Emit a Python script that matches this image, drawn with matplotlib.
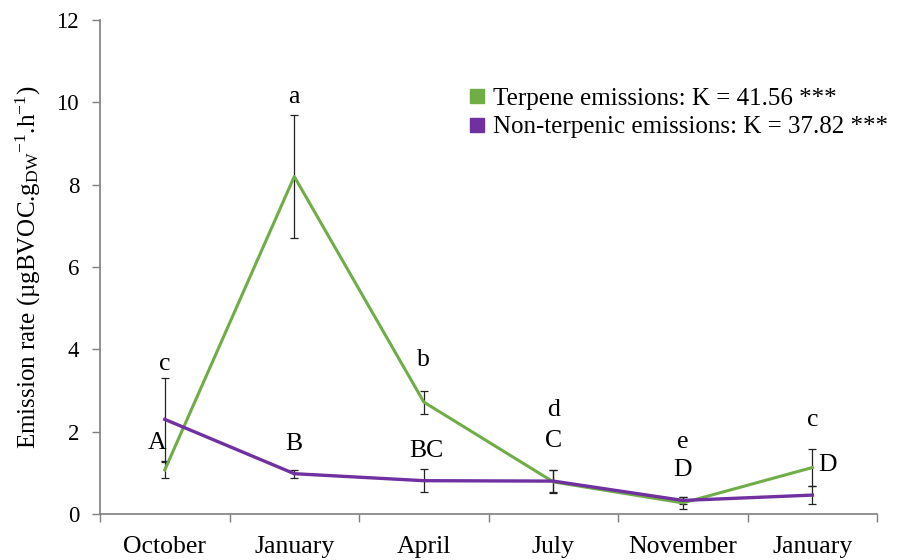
import matplotlib
matplotlib.use("Agg")
import matplotlib.pyplot as plt
from matplotlib.lines import Line2D

plt.rcParams['font.family'] = ['Liberation Serif', 'DejaVu Serif']
plt.rcParams['mathtext.fontset'] = 'custom'
plt.rcParams['mathtext.rm'] = 'Liberation Serif'
plt.rcParams['mathtext.it'] = 'Liberation Serif:italic'

# donnees
months = ["October", "January", "April", "July", "November", "January"]
terpene = [1.07, 8.2, 2.72, 0.78, 0.27, 1.13]
terpene_err = [0.2, 1.5, 0.28, 0.28, 0.14, 0.45]
nonterp = [2.3, 0.98, 0.81, 0.80, 0.33, 0.46]
nonterp_err = [1.0, 0.1, 0.28, 0.27, 0.08, 0.22]

# lettres de significativite (minuscules: terpenes, majuscules: non-terpeniques)
low_letters = ["c", "a", "b", "d", "e", "c"]
low_y = [3.64, 10.13, 3.74, 2.53, 1.75, 2.28]
up_letters = ["A", "B", "BC", "C", "D", "D"]
up_y = [1.72, 1.70, 1.53, 1.77, 1.07, 1.19]
up_dx = [-0.06, 0.0, 0.02, 0.0, 0.0, 0.12]

green = "#70AD47"
purple = "#7030A0"
grey = "#7f7f7f"

fig = plt.figure(figsize=(9.09, 5.6), dpi=100)
ax = fig.add_axes([0.110, 0.0821, 0.855, 0.882])

x = [i + 0.5 for i in range(len(months))]

ax.errorbar(x, terpene, yerr=terpene_err, fmt='none', ecolor='#222222',
            elinewidth=0.9, capsize=3, capthick=0.9, zorder=2)
ax.errorbar(x, nonterp, yerr=nonterp_err, fmt='none', ecolor='#222222',
            elinewidth=0.9, capsize=3, capthick=0.9, zorder=2)
ax.plot(x, terpene, color=green, lw=2.2, zorder=3)
ax.plot(x, nonterp, color=purple, lw=2.4, zorder=3)

for i in range(len(months)):
    ax.text(x[i], low_y[i], low_letters[i], ha='center', va='center', fontsize=18.5)
    ax.text(x[i] + up_dx[i], up_y[i], up_letters[i], ha='center', va='center', fontsize=18.5)

ax.set_xlim(0, 6)
ax.set_ylim(0, 12)
ax.set_yticks(range(0, 13, 2))
ax.set_xticks(range(0, 7))
ax.set_xticklabels([])
ax.set_xticks(x, minor=True)
ax.set_xticklabels(months, minor=True, fontsize=18.5)
ax.tick_params(axis='x', which='minor', length=0, pad=16)
ax.tick_params(axis='x', which='major', length=6, width=1, color=grey, direction='out')
ax.tick_params(axis='y', length=6, width=1, color=grey, direction='out', labelsize=16.5, pad=9)

for s in ['top', 'right']:
    ax.spines[s].set_visible(False)
for s in ['left', 'bottom']:
    ax.spines[s].set_color(grey)
    ax.spines[s].set_linewidth(1.2)

ax.set_ylabel(r"Emission rate (µgBVOC.g$_{\mathrm{DW}}$$^{\mathrm{-1}}$.h$^{\mathrm{-1}}$)",
              fontsize=18, labelpad=10)

handles = [Line2D([], [], ls='none', marker='s', color=green, markersize=9.5),
           Line2D([], [], ls='none', marker='s', color=purple, markersize=9.5)]
labels = ["Terpene emissions: K = 41.56 ***", "Non-terpenic emissions: K = 37.82 ***"]
fig.legend(handles, labels, loc='upper left', bbox_to_anchor=(468 / 909, 1 - 87 / 560),
           frameon=False, fontsize=18, handletextpad=0.3, handlelength=0.7,
           labelspacing=0.25, borderpad=0, borderaxespad=0)

fig.savefig("out.png", dpi=100)
